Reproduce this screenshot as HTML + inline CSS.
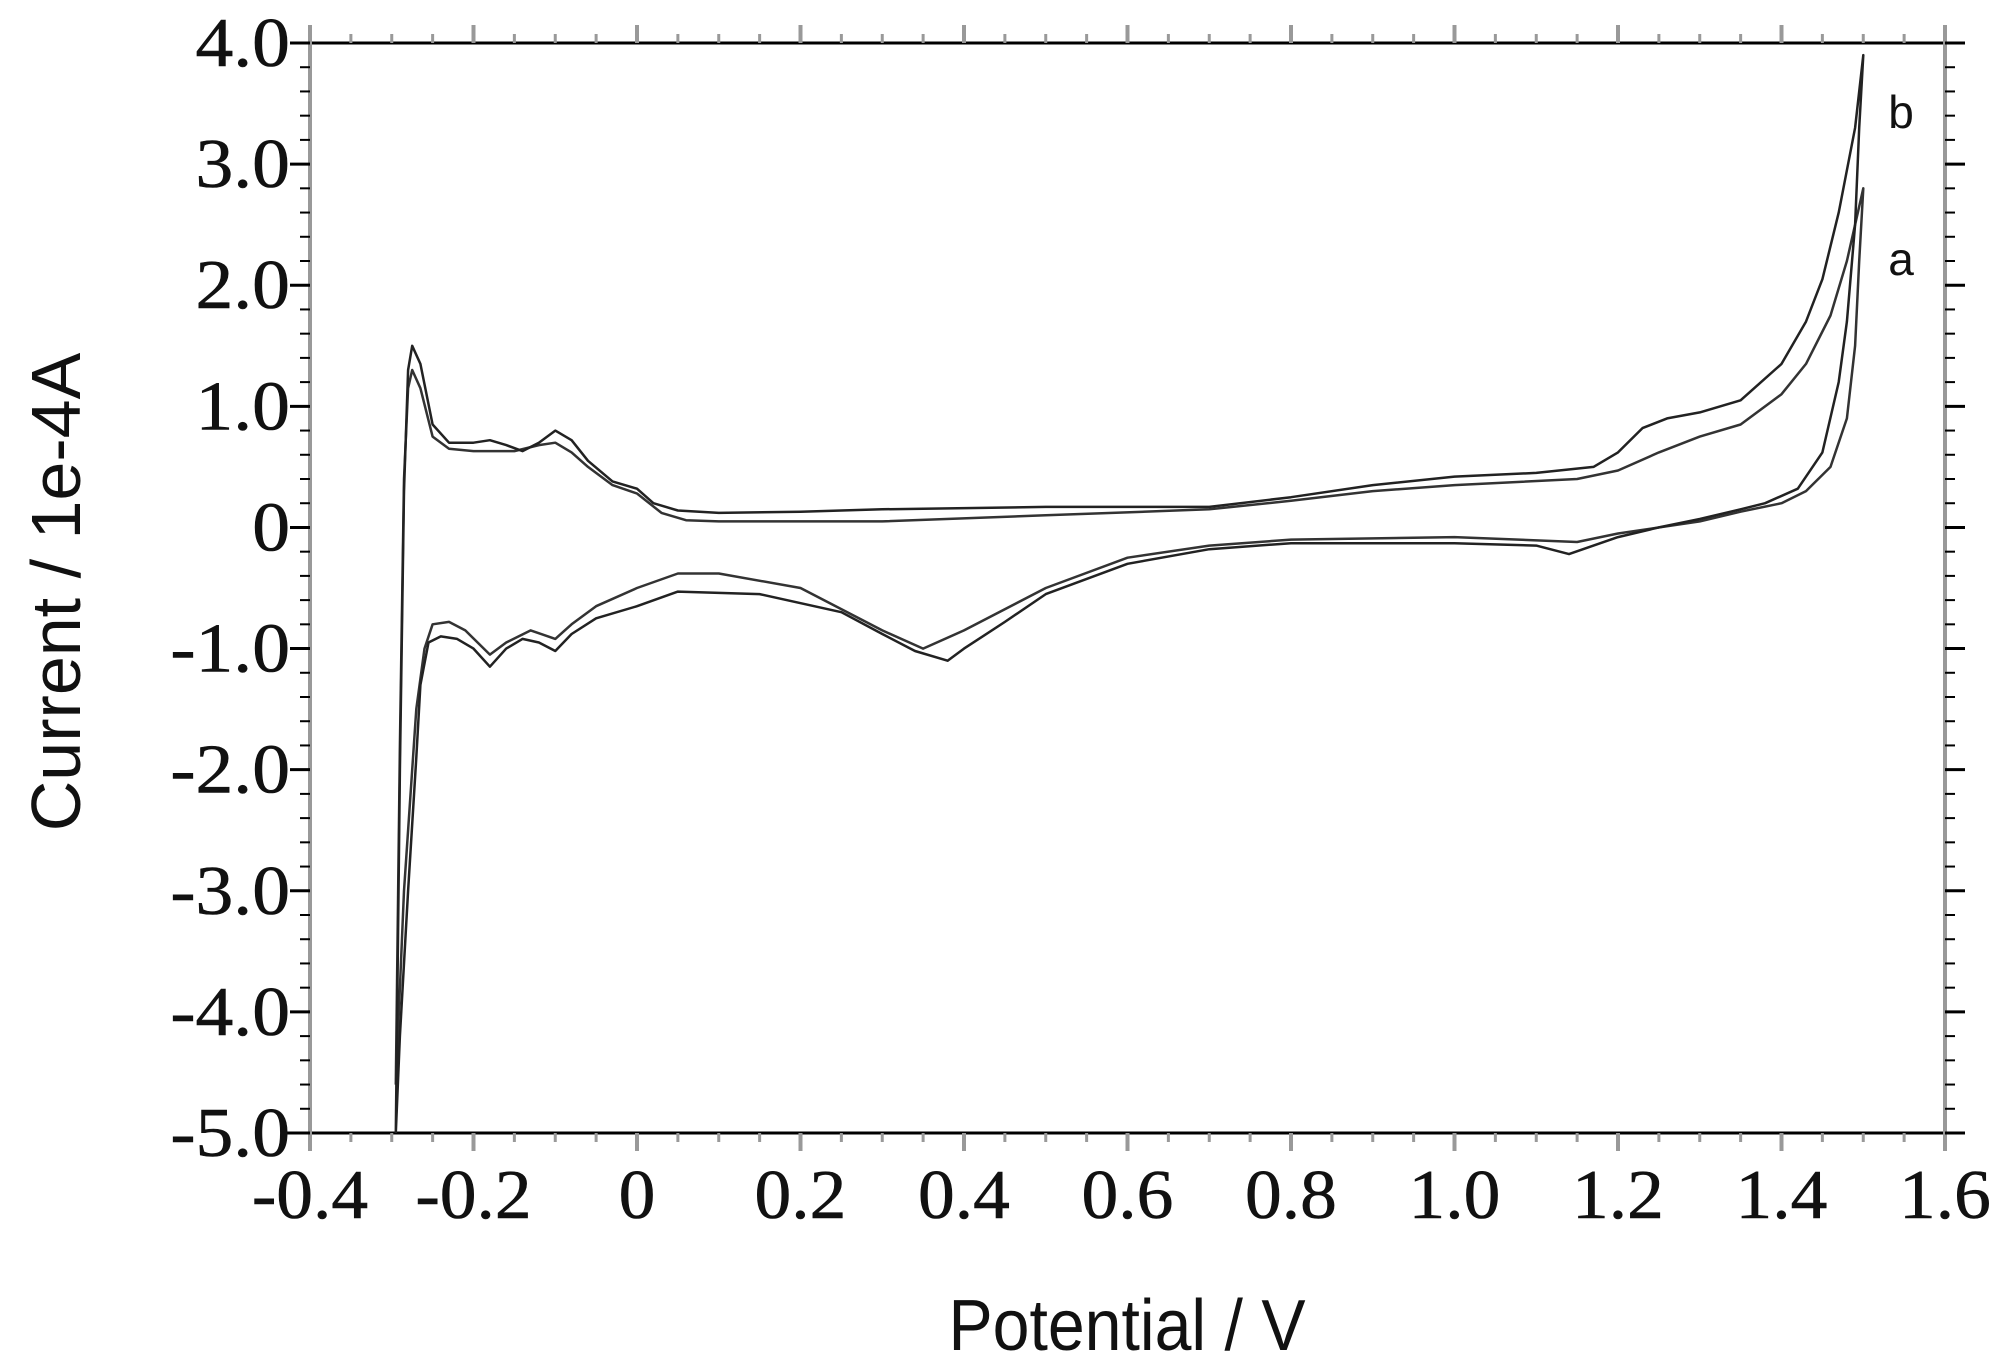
<!DOCTYPE html>
<html><head><meta charset="utf-8"><style>
html,body{margin:0;padding:0;background:#fff;}
svg{display:block;}
</style></head><body>
<svg id="chart" width="1997" height="1370" viewBox="0 0 1997 1370" xmlns="http://www.w3.org/2000/svg">
<g id="axes"></g>
<g id="series"></g>
<text x="1901" y="128" font-family="Liberation Sans, sans-serif" font-size="46" fill="#111" text-anchor="middle">b</text>
<text x="1901" y="275" font-family="Liberation Sans, sans-serif" font-size="46" fill="#111" text-anchor="middle">a</text>
<text x="1127" y="1350" font-family="Liberation Sans, sans-serif" font-size="72" fill="#111" text-anchor="middle" transform="translate(1127,0) scale(0.92,1) translate(-1127,0)">Potential / V</text>
<text x="0" y="0" font-family="Liberation Sans, sans-serif" font-size="70" fill="#111" text-anchor="middle" transform="translate(80,592) rotate(-90)">Current / 1e-4A</text>
</svg>
<script>
const xTicks = [-0.4,-0.2,0,0.2,0.4,0.6,0.8,1.0,1.2,1.4,1.6];
const xTickLabels = ["-0.4","-0.2","0","0.2","0.4","0.6","0.8","1.0","1.2","1.4","1.6"];
const yTicks = [4,3,2,1,0,-1,-2,-3,-4,-5];
const yTickLabels = ["4.0","3.0","2.0","1.0","0","-1.0","-2.0","-3.0","-4.0","-5.0"];
const bPotential = [-0.295,-0.29,-0.285,-0.28,-0.275,-0.265,-0.25,-0.23,-0.2,-0.18,-0.16,-0.14,-0.12,-0.1,-0.08,-0.06,-0.03,0,0.02,0.05,0.1,0.2,0.3,0.5,0.7,0.8,0.9,1.0,1.1,1.17,1.2,1.23,1.26,1.3,1.35,1.4,1.43,1.45,1.47,1.49,1.5,
 1.495,1.49,1.48,1.47,1.45,1.42,1.38,1.35,1.3,1.25,1.2,1.17,1.14,1.1,1.0,0.9,0.8,0.7,0.6,0.5,0.45,0.4,0.38,0.34,0.3,0.25,0.15,0.05,0,-0.05,-0.08,-0.1,-0.12,-0.14,-0.16,-0.18,-0.2,-0.22,-0.24,-0.255,-0.265,-0.27,-0.28,-0.29,-0.295];
const bCurrent = [-5.0,-2.0,0.3,1.3,1.5,1.35,0.85,0.7,0.7,0.72,0.68,0.63,0.7,0.8,0.72,0.55,0.38,0.32,0.2,0.14,0.12,0.13,0.15,0.17,0.17,0.25,0.35,0.42,0.45,0.5,0.62,0.82,0.9,0.95,1.05,1.35,1.7,2.05,2.6,3.3,3.9,
 3.3,2.5,1.7,1.2,0.62,0.32,0.2,0.15,0.07,0.0,-0.08,-0.15,-0.22,-0.15,-0.13,-0.13,-0.13,-0.18,-0.3,-0.55,-0.78,-1.0,-1.1,-1.02,-0.88,-0.7,-0.55,-0.53,-0.65,-0.75,-0.88,-1.02,-0.95,-0.92,-1.0,-1.15,-1.0,-0.92,-0.9,-0.95,-1.3,-1.9,-3.0,-4.2,-5.0];
const aPotential = [-0.295,-0.29,-0.285,-0.28,-0.275,-0.265,-0.25,-0.23,-0.2,-0.15,-0.12,-0.1,-0.08,-0.06,-0.03,0,0.03,0.06,0.1,0.3,0.5,0.7,0.8,0.9,1.0,1.15,1.2,1.25,1.3,1.35,1.4,1.43,1.46,1.48,1.5,
 1.495,1.49,1.48,1.46,1.43,1.4,1.35,1.3,1.2,1.15,1.0,0.8,0.7,0.6,0.5,0.4,0.35,0.3,0.2,0.1,0.05,0,-0.05,-0.08,-0.1,-0.13,-0.16,-0.18,-0.21,-0.23,-0.25,-0.26,-0.27,-0.285,-0.295];
const aCurrent = [-4.6,-1.8,0.4,1.15,1.3,1.15,0.75,0.65,0.63,0.63,0.68,0.7,0.62,0.5,0.35,0.28,0.12,0.06,0.05,0.05,0.1,0.15,0.22,0.3,0.35,0.4,0.47,0.62,0.75,0.85,1.1,1.35,1.75,2.2,2.8,
 2.2,1.5,0.9,0.5,0.3,0.2,0.13,0.05,-0.05,-0.12,-0.08,-0.1,-0.15,-0.25,-0.5,-0.85,-1.0,-0.85,-0.5,-0.38,-0.38,-0.5,-0.65,-0.8,-0.92,-0.85,-0.95,-1.05,-0.85,-0.78,-0.8,-1.0,-1.5,-3.0,-4.6];

const X0=310, X1=1945, Y0=43, Y1=1133;
function xs(v){return X0+(v-(-0.4))/(2.0)*(X1-X0);}
function ys(v){return Y0+(4-v)/9*(Y1-Y0);}
const NS="http://www.w3.org/2000/svg";
const axes=document.getElementById('axes');
function mk(tag,attrs,parent){const e=document.createElementNS(NS,tag);for(const k in attrs)e.setAttribute(k,attrs[k]);parent.appendChild(e);return e;}

let l;
l=mk('line',{x1:X0,y1:Y0,x2:X1+10,y2:Y0,stroke:'#000','stroke-width':3},axes);


l=mk('line',{x1:X0-25,y1:Y1,x2:X1,y2:Y1,stroke:'#000','stroke-width':3},axes);


l=mk('line',{x1:X0,y1:Y0-10,x2:X0,y2:Y1+18,stroke:'#999','stroke-width':4},axes);


l=mk('line',{x1:X1,y1:Y0-18,x2:X1,y2:Y1+18,stroke:'#999','stroke-width':4},axes);



for(let i=0;i<=40;i++){
  const v=-0.4+i*0.05, x=xs(v), major=(i%4===0);
  const len=major?18:9;
  const t1=mk('line',{x1:x,y1:Y1,x2:x,y2:Y1+len,stroke:'#999','stroke-width':major?4:3},axes);
  
  
  const t2=mk('line',{x1:x,y1:Y0,x2:x,y2:Y0-len,stroke:'#999','stroke-width':major?4:3},axes);
  
  
}
xTicks.forEach((v,i)=>{
  const x=xs(v), y=1218;
  const t=mk('text',{x:x,y:y,'font-family':'Liberation Serif, serif','font-size':70,'text-anchor':'middle',fill:'#111',stroke:'#111','stroke-width':0.6,transform:`translate(${x},0) scale(1.05,1) translate(${-x},0)`},axes);
  t.textContent=xTickLabels[i];
  
  
});
for(let i=0;i<=45;i++){
  const v=4-i*0.2, y=ys(v), major=(i%5===0);
  const len=major?20:10;
  const t1=mk('line',{x1:X0,y1:y,x2:X0-len,y2:y,stroke:'#000','stroke-width':major?3:2},axes);
  
  
  const t2=mk('line',{x1:X1,y1:y,x2:X1+len,y2:y,stroke:'#000','stroke-width':major?3:2},axes);
  
  
}
yTicks.forEach((v,i)=>{
  const y=ys(v)+23;
  const t=mk('text',{x:290,y:y,'font-family':'Liberation Serif, serif','font-size':70,'text-anchor':'end',fill:'#111',stroke:'#111','stroke-width':0.6,transform:`translate(290,0) scale(1.08,1) translate(-290,0)`},axes);
  t.textContent=yTickLabels[i];
  
  
});

const series=document.getElementById('series');
function path(px,py){return px.map((v,i)=>(i?'L':'M')+xs(v).toFixed(1)+' '+ys(py[i]).toFixed(1)).join(' ');}
const pa=mk('path',{d:path(aPotential,aCurrent),fill:'none',stroke:'#333','stroke-width':2.5,'stroke-linejoin':'round'},series);


const pb=mk('path',{d:path(bPotential,bCurrent),fill:'none',stroke:'#222','stroke-width':2.5,'stroke-linejoin':'round'},series);


</script>
</body></html>
